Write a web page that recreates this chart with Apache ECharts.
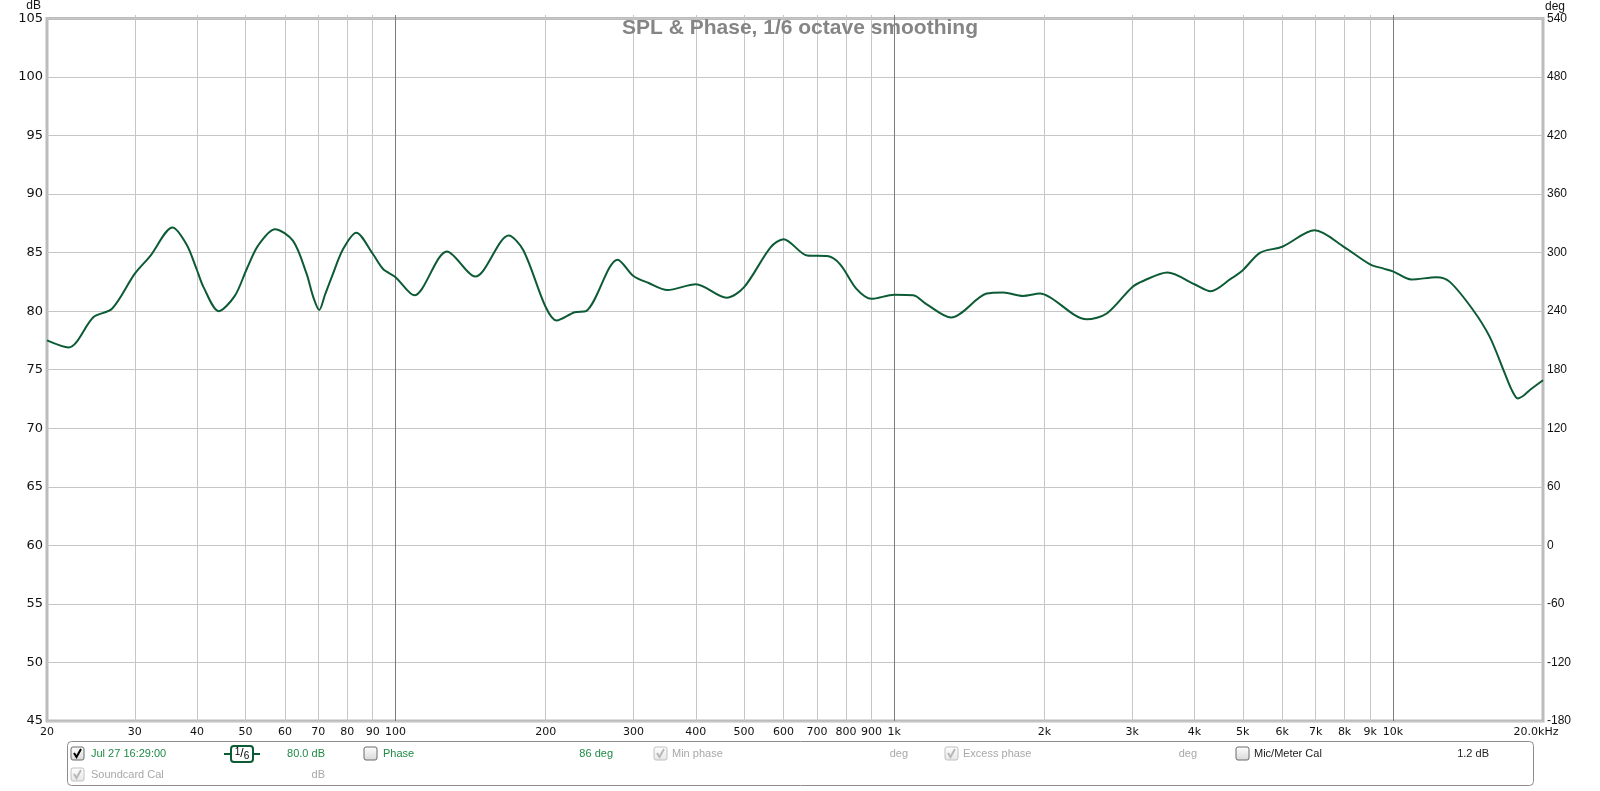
<!DOCTYPE html>
<html>
<head>
<meta charset="utf-8">
<script src="https://cdn.jsdelivr.net/npm/echarts@6/dist/echarts.min.js"></script>
<style>
html,body{margin:0;padding:0;background:#fff;}
#chart{width:1600px;height:791px;}
</style>
</head>
<body>
<div id="chart"></div>
<script>
// ---- data ----
const freqs = [20, 22.1, 24.8, 27.0, 30, 32.2, 35.7, 38.1, 39.9, 41.2, 44.2, 47.6, 50.3, 53.0, 57.3, 62.3, 66.3, 68.4, 70.3, 72.2, 74.6, 78.5, 83.4, 90, 94.4, 100,
  109, 126.8, 144.5, 168.6, 180.4, 200, 210.4, 228.6, 241, 279, 300, 321.8, 350.8, 400, 461, 500, 565, 600, 669, 734, 779, 840, 900,
  1000, 1092, 1160, 1300, 1532, 1654, 1812, 1960, 2050, 2432, 2668, 3000, 3164, 3530, 4000, 4310, 4727, 5000, 5420, 6000, 6970,
  8000, 9000, 9552, 10000, 10892, 12232, 13008, 14480, 15640, 16760, 17300, 17800, 18300, 18800, 20000];
const spl = [77.5, 76.9, 79.5, 80.2, 83.2, 84.7, 87.15, 85.7, 83.6, 82.05, 80.0, 81.3, 83.6, 85.6, 87.0, 86.0, 83.2, 81.2, 80.1, 81.4, 83.0, 85.3, 86.7, 84.9, 83.6, 82.9,
  81.35, 85.1, 82.95, 86.45, 85.2, 80.35, 79.2, 79.9, 80.0, 84.4, 83.0, 82.4, 81.8, 82.3, 81.15, 82.05, 85.45, 86.15, 84.75, 84.7, 84.0, 81.9, 81.05,
  81.4, 81.35, 80.6, 79.45, 81.5, 81.6, 81.3, 81.5, 81.2, 79.3, 79.8, 82.05, 82.6, 83.3, 82.3, 81.7, 82.75, 83.5, 85.0, 85.5, 86.9,
  85.45, 84.0, 83.65, 83.4, 82.7, 82.9, 82.5, 80.1, 77.8, 74.7, 73.3, 72.55, 72.8, 73.25, 74.1];
const minorGridFreqs = [30, 40, 50, 60, 70, 80, 90, 200, 300, 400, 500, 600, 700, 800, 900, 2000, 3000, 4000, 5000, 6000, 7000, 8000, 9000];
const decadeGridFreqs = [100, 1000, 10000];
const xTickLabels = [20, 30, 40, 50, 60, 70, 80, 90, 100, 200, 300, 400, 500, 600, 700, 800, 900, 1000, 2000, 3000, 4000, 5000, 6000, 7000, 8000, 9000, 10000, 20000];
const splRange = [45, 105, 5];
const phaseRange = [-180, 540, 60];
const titleText = 'SPL & Phase, 1/6 octave smoothing';

const FONT = '"Liberation Sans", Arial, sans-serif';
const DJV = '"DejaVu Sans", Verdana, sans-serif';
const NARROW = '"Liberation Sans Narrow", "Liberation Sans", Arial, sans-serif';
const GREEN = '#0c5b35';
const TXT_GREEN = '#1f8a47';
const GRAY_TXT = '#a8a8a8';

const chart = echarts.init(document.getElementById('chart'), null, {renderer: 'canvas'});
const gridTop = 15, gridBottom = 70;
const plotH = 791 - gridTop - gridBottom;

function fmtFreq(v) {
  if (v >= 20000) return '{last|20.0kHz}';
  if (v >= 1000) return Math.round(v / 1000) + 'k';
  return String(Math.round(v));
}

// legend helpers
function checkbox(x, yc, checked, disabled) {
  const els = [{
    type: 'rect', shape: {x: x, y: yc - 7, width: 13, height: 13, r: 2},
    style: {fill: new echarts.graphic.LinearGradient(0, 0, 0, 1, [{offset: 0, color: '#ffffff'}, {offset: 1, color: disabled ? '#e6e6e6' : '#d8d8d8'}]),
      stroke: disabled ? '#c0c0c0' : '#6a6a6a', lineWidth: 1}
  }];
  if (checked) {
    els.push({type: 'polyline', shape: {points: [[x + 3, yc - 1], [x + 5.5, yc + 3], [x + 10, yc - 5]]},
      style: {stroke: disabled ? '#b8b8b8' : '#000', lineWidth: 2, fill: null}});
  }
  return els;
}
function ltext(x, yc, txt, color, align) {
  return {type: 'text', x: x, y: yc, style: {text: txt, fill: color, font: '11px ' + NARROW, textAlign: align || 'left', textVerticalAlign: 'middle'}};
}

const r1 = 754, r2 = 775;
const legend = [
  {type: 'rect', shape: {x: 67.5, y: 741.5, width: 1466, height: 44, r: 4}, style: {fill: '#fff', stroke: '#8c8c8c', lineWidth: 1}},
  ...checkbox(71, r1, true, false),
  ltext(91, r1, 'Jul 27 16:29:00', TXT_GREEN),
  {type: 'line', shape: {x1: 224, y1: r1, x2: 232, y2: r1}, style: {stroke: GREEN, lineWidth: 2}},
  {type: 'line', shape: {x1: 252, y1: r1, x2: 260, y2: r1}, style: {stroke: GREEN, lineWidth: 2}},
  {type: 'rect', shape: {x: 231, y: r1 - 8, width: 22, height: 16, r: 3}, style: {fill: '#fff', stroke: GREEN, lineWidth: 2}},
  {type: 'text', x: 242, y: r1, style: {text: '{a|1}/{b|6}', textAlign: 'center', textVerticalAlign: 'middle', fill: '#000',
    font: '12px ' + FONT, rich: {a: {fontSize: 10, verticalAlign: 'top', padding: [0, 0, 4, 0]}, b: {fontSize: 10, padding: [4, 0, 0, 0]}}}},
  ltext(325, r1, '80.0 dB', TXT_GREEN, 'right'),
  ...checkbox(364, r1, false, false),
  ltext(383, r1, 'Phase', TXT_GREEN),
  ltext(613, r1, '86 deg', TXT_GREEN, 'right'),
  ...checkbox(654, r1, true, true),
  ltext(672, r1, 'Min phase', GRAY_TXT),
  ltext(908, r1, 'deg', GRAY_TXT, 'right'),
  ...checkbox(945, r1, true, true),
  ltext(963, r1, 'Excess phase', GRAY_TXT),
  ltext(1197, r1, 'deg', GRAY_TXT, 'right'),
  ...checkbox(1236, r1, false, false),
  ltext(1254, r1, 'Mic/Meter Cal', '#222'),
  ltext(1489, r1, '1.2 dB', '#222', 'right'),
  ...checkbox(71, r2, true, true),
  ltext(91, r2, 'Soundcard Cal', GRAY_TXT),
  ltext(325, r2, 'dB', GRAY_TXT, 'right')
];

const baseX = {
  type: 'log', logBase: 10, min: 20, max: 20000, gridIndex: 0, position: 'bottom',
  axisLine: {show: false, onZero: false}, splitLine: {show: false}, minorTick: {show: false}, minorSplitLine: {show: false}
};

const option = {
  animation: false,
  backgroundColor: '#ffffff',
  title: {text: titleText, left: 'center', top: 13,
    textStyle: {color: '#858585', fontSize: 21, fontWeight: 'bold', fontFamily: FONT}},
  grid: {left: 47, right: 57, top: gridTop, bottom: gridBottom, show: true, borderColor: '#bcbcbc', borderWidth: 3, backgroundColor: '#fff'},
  xAxis: [
    Object.assign({}, baseX, {
      axisTick: {show: true, inside: true, length: plotH, customValues: minorGridFreqs, lineStyle: {color: '#c6c6c6', width: 1}},
      axisLabel: {show: true, customValues: xTickLabels, formatter: fmtFreq, margin: 6, color: '#111', fontSize: 11, fontFamily: DJV, hideOverlap: false,
        rich: {last: {fontSize: 11, fontFamily: DJV, color: '#111', padding: [0, 14, 0, 0]}}}
    }),
    Object.assign({}, baseX, {
      axisTick: {show: true, inside: true, length: plotH, customValues: decadeGridFreqs, lineStyle: {color: '#7c7c7c', width: 1}},
      axisLabel: {show: false}
    })
  ],
  yAxis: [
    {type: 'value', position: 'left', min: splRange[0], max: splRange[1], interval: splRange[2],
      name: 'dB', nameLocation: 'end', nameGap: 3,
      nameTextStyle: {color: '#111', fontSize: 12, fontFamily: FONT, align: 'right', padding: [0, 6, 0, 0]},
      axisLine: {show: false}, axisTick: {show: false},
      axisLabel: {color: '#111', fontSize: 13, fontFamily: DJV, margin: 4},
      splitLine: {show: true, lineStyle: {color: '#c6c6c6', width: 1}}},
    {type: 'value', position: 'right', min: phaseRange[0], max: phaseRange[1], interval: phaseRange[2],
      name: 'deg', nameLocation: 'end', nameGap: 3,
      nameTextStyle: {color: '#111', fontSize: 12, fontFamily: FONT, align: 'left', padding: [0, 0, 0, 2]},
      axisLine: {show: false}, axisTick: {show: false},
      axisLabel: {color: '#111', fontSize: 12, fontFamily: FONT, margin: 4},
      splitLine: {show: false}}
  ],
  series: [{
    type: 'line', xAxisIndex: 0, yAxisIndex: 0, smooth: 0.3, symbol: 'none', z: 5,
    lineStyle: {color: GREEN, width: 2},
    data: freqs.map((f, i) => [f, spl[i]])
  }],
  graphic: {elements: legend}
};
chart.setOption(option);
</script>
</body>
</html>
